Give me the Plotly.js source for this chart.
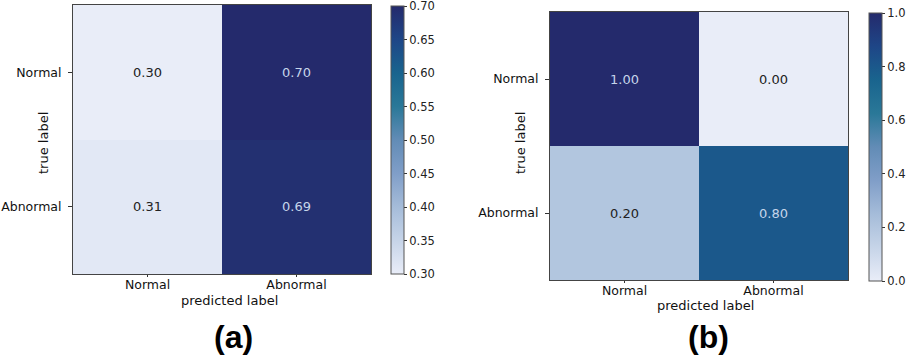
<!DOCTYPE html>
<html>
<head>
<meta charset="utf-8">
<script src="https://cdn.plot.ly/plotly-3.0.1.min.js"></script>
<style>html,body{margin:0;padding:0;background:#fff;}#chart{width:916px;height:359px;}</style>
</head>
<body>
<div id="chart"></div>
<script>
// ---- data ----
const predictedLabels = ['Normal', 'Abnormal'];
const trueLabels = ['Normal', 'Abnormal'];
const valuesA = [[0.30, 0.70], [0.31, 0.69]];
const valuesB = [[1.00, 0.00], [0.20, 0.80]];
const rangeA = [0.30, 0.70];
const rangeB = [0.0, 1.0];
const ticksA = [0.30, 0.35, 0.40, 0.45, 0.50, 0.55, 0.60, 0.65, 0.70];
const ticksB = [0.0, 0.2, 0.4, 0.6, 0.8, 1.0];
const panelNames = ['(a)', '(b)'];

// ---- styling ----
const cmap = [
  [0.0, 'rgb(233,237,248)'],
  [0.125, 'rgb(198,212,232)'],
  [0.25, 'rgb(165,188,217)'],
  [0.375, 'rgb(128,158,200)'],
  [0.5, 'rgb(98,140,182)'],
  [0.625, 'rgb(42,120,152)'],
  [0.75, 'rgb(25,100,142)'],
  [0.875, 'rgb(30,70,135)'],
  [1.0, 'rgb(36,42,108)']
];
const FONT = 'DejaVu Sans, sans-serif';
const W = 916, H = 359;
const px = v => v / W;
const py = v => 1 - v / H;
const EPS = 1e-6;

function heat(z, rng, ticks, xa, ya, cbx, cbTop, cbBot, fmt) {
  return {
    type: 'heatmap', z: z, x: predictedLabels, y: trueLabels,
    xaxis: xa, yaxis: ya, zmin: rng[0] - EPS, zmax: rng[1] + EPS,
    colorscale: cmap, hoverinfo: 'skip',
    colorbar: {
      x: px(cbx), xanchor: 'left', xpad: 0, ypad: 0,
      y: py((cbTop + cbBot) / 2), yanchor: 'middle',
      len: cbBot - cbTop, lenmode: 'pixels', thickness: 13,
      outlinewidth: 1, outlinecolor: '#555',
      tickmode: 'array', tickvals: ticks, ticktext: ticks.map(t => t.toFixed(fmt)),
      ticks: 'outside', ticklen: 3, tickcolor: '#333',
      ticklabeloverflow: 'allow',
      tickfont: {family: FONT, size: 11.5, color: '#222'}
    }
  };
}

const data = [
  heat(valuesA, rangeA, ticksA, 'x', 'y', 391, 6, 274, 2),
  heat(valuesB, rangeB, ticksB, 'x2', 'y2', 869, 13, 281, 1)
];

function axX(l, r, anchor) {
  return {
    domain: [px(l), px(r)], anchor: anchor, type: 'category',
    showline: true, mirror: true, linecolor: '#444', linewidth: 1,
    ticks: 'outside', ticklen: 2, tickcolor: '#333', ticklabelstandoff: -3,
    tickfont: {family: FONT, size: 12.5, color: '#111'},
    showgrid: false, zeroline: false, fixedrange: true
  };
}
function axY(t, b, anchor) {
  return {
    domain: [py(b), py(t)], anchor: anchor, type: 'category', autorange: 'reversed',
    showline: true, mirror: true, linecolor: '#444', linewidth: 1,
    ticks: 'outside', ticklen: 4, tickcolor: '#333', ticklabelstandoff: 4,
    tickfont: {family: FONT, size: 12.5, color: '#111'},
    showgrid: false, zeroline: false, fixedrange: true
  };
}

const annotations = [];
function cellText(z, rng, xr, yr) {
  const mid = (rng[0] + rng[1]) / 2;
  z.forEach((row, i) => row.forEach((v, j) => {
    annotations.push({
      x: predictedLabels[j], y: trueLabels[i], xref: xr, yref: yr,
      text: v.toFixed(2), showarrow: false,
      font: {family: FONT, size: 13, color: v > mid ? '#c6d5ea' : '#222'}
    });
  }));
}
cellText(valuesA, rangeA, 'x', 'y');
cellText(valuesB, rangeB, 'x2', 'y2');

function label(text, x, y, opts) {
  annotations.push(Object.assign({
    text: text, x: px(x), y: py(y), xref: 'paper', yref: 'paper',
    xanchor: 'center', yanchor: 'middle', showarrow: false,
    font: {family: FONT, size: 13, color: '#111'}
  }, opts || {}));
}
label('true label', 43, 143, {textangle: -90});
label('predicted label', 229, 300);
label('true label', 520, 143, {textangle: -90});
label('predicted label', 705, 305);
label('<b>' + panelNames[0] + '</b>', 233, 337, {font: {family: 'Liberation Sans, Arial, sans-serif', size: 32, color: '#000'}});
label('<b>' + panelNames[1] + '</b>', 708, 337, {font: {family: 'Liberation Sans, Arial, sans-serif', size: 32, color: '#000'}});

const layout = {
  width: W, height: H, margin: {l: 0, r: 0, t: 0, b: 0},
  paper_bgcolor: '#fff', plot_bgcolor: '#fff', showlegend: false,
  xaxis: axX(73, 371, 'y'), yaxis: axY(5, 274, 'x'),
  xaxis2: axX(550, 848, 'y2'), yaxis2: axY(12, 280, 'x2'),
  annotations: annotations
};

Plotly.newPlot('chart', data, layout, {displayModeBar: false, staticPlot: true});
</script>
</body>
</html>
